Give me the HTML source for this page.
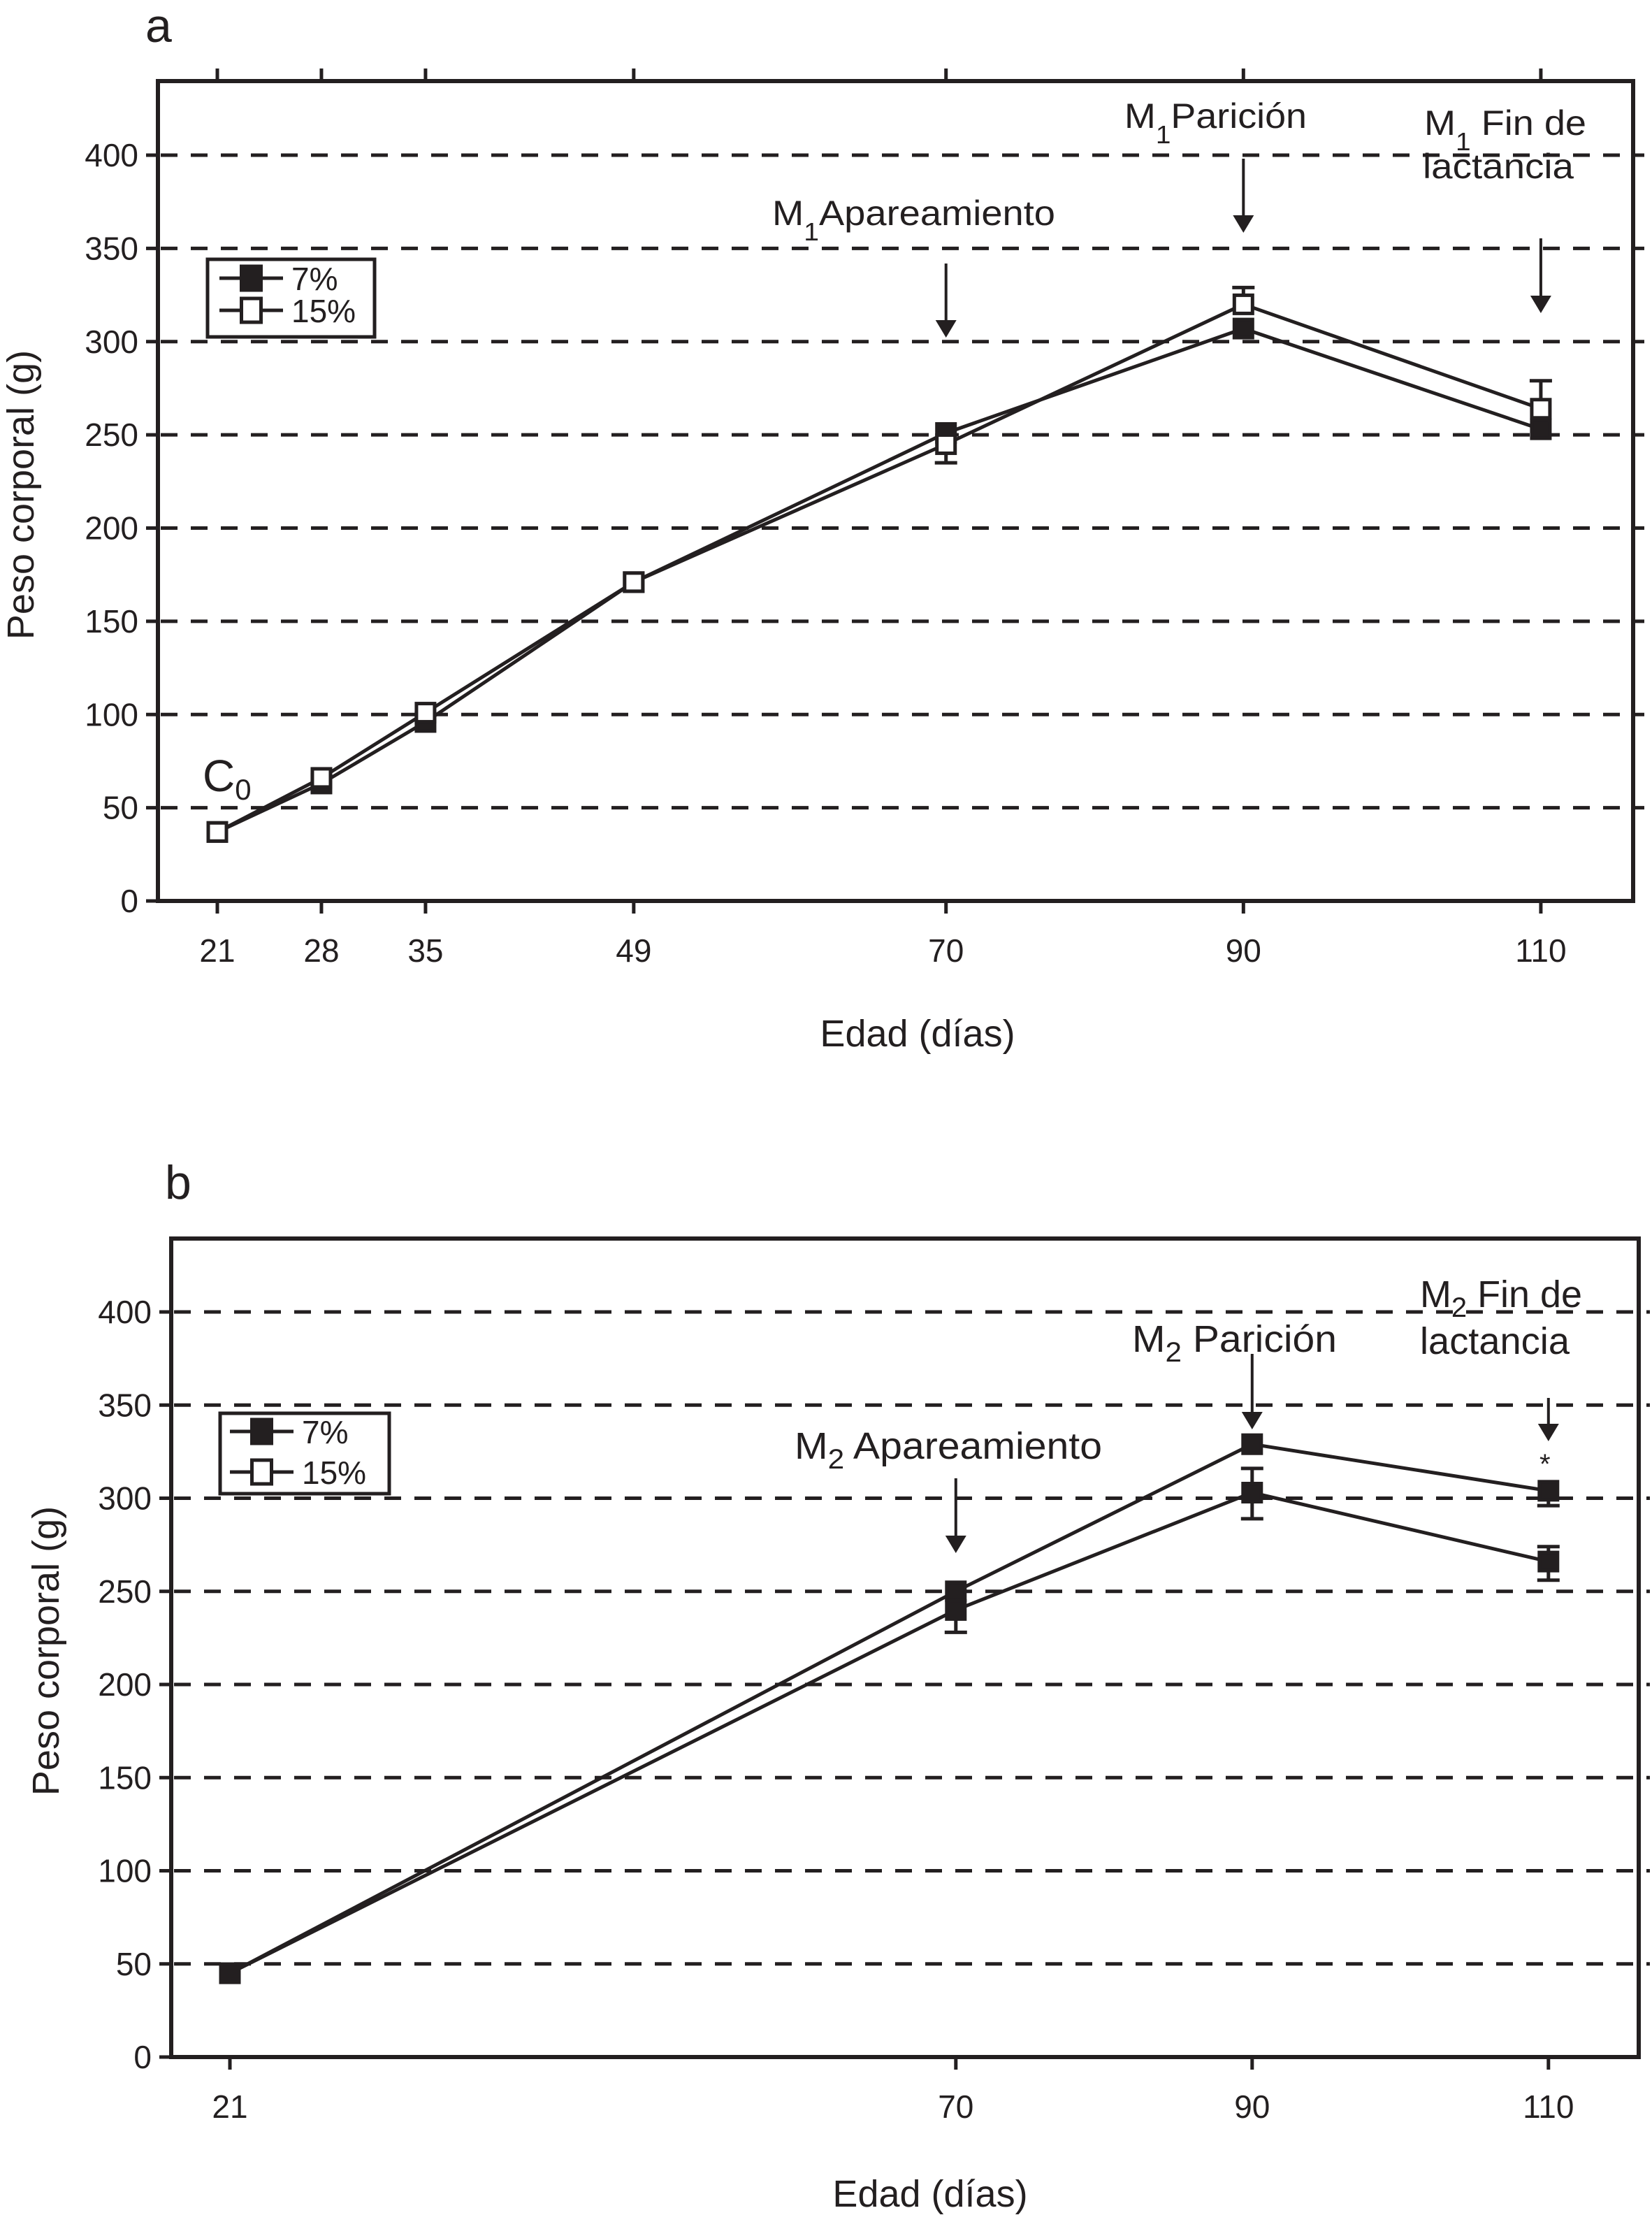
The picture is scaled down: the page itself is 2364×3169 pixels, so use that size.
<!DOCTYPE html>
<html><head><meta charset="utf-8"><title>Peso corporal</title>
<style>html,body{margin:0;padding:0;background:#fff}svg{display:block}text{font-family:"Liberation Sans",sans-serif;fill:#231f20}</style>
</head><body>
<svg id="fig" xmlns="http://www.w3.org/2000/svg" width="2364" height="3169" viewBox="0 0 2364 3169"></svg>
<script>
// ---- Panel a data ----
const aDays = [21, 28, 35, 49, 70, 90, 110];
const a7 = [37, 63, 96, 171, 251, 307, 253];
const a15 = [37, 66, 101, 171, 245, 320, 264];
const a7ErrUp = [0, 0, 0, 0, 0, 0, 0];
const a7ErrDown = [0, 0, 0, 0, 0, 0, 0];
const a15ErrUp = [0, 0, 0, 0, 0, 9, 15];
const a15ErrDown = [0, 0, 0, 0, 10, 0, 0];
// ---- Panel b data ----
const bDays = [21, 70, 90, 110];
const bUpper = [45, 250, 329, 304];
const bLower = [45, 240, 303, 266];
const bUpperErrUp = [0, 0, 0, 0];
const bUpperErrDown = [0, 0, 0, 8];
const bLowerErrUp = [0, 0, 13, 8];
const bLowerErrDown = [0, 12, 14, 10];
const yTicks = [0, 50, 100, 150, 200, 250, 300, 350, 400];

const NS = "http://www.w3.org/2000/svg";
const svg = document.getElementById('fig');
function mk(tag, attrs, parent) {
  const e = document.createElementNS(NS, tag);
  for (const k in attrs) e.setAttribute(k, attrs[k]);
  (parent || svg).appendChild(e);
  return e;
}

function drawPanel(p) {
  const g = mk('g', {});
  
  
  const X = d => p.x21 + (d - 21) * p.dx;
  const Y = v => p.y0 - v * p.dy;
  // panel letter
  const L = mk('text', {x: p.letterX, y: p.letterY, 'font-size': 68}, g);
  L.textContent = p.letter;
  
  
  // gridlines
  yTicks.forEach(v => {
    if (v > 0) {
      const gl = mk('line', {x1: p.left + 4, x2: p.right + 16, y1: Y(v), y2: Y(v), stroke: '#231f20', 'stroke-width': 5, 'stroke-dasharray': '24 19'}, g);
      
      
    }
    const tk = mk('line', {x1: p.left - 17, x2: p.left, y1: Y(v), y2: Y(v), stroke: '#231f20', 'stroke-width': 5}, g);
    
    
    const t = mk('text', {x: p.left - 28, y: Y(v) + 16, 'font-size': 46, 'text-anchor': 'end'}, g);
    t.textContent = v;
    
    
  });
  // frame
  const fr = mk('rect', {x: p.left, y: p.top, width: p.right - p.left, height: p.y0 - p.top, fill: 'none', stroke: '#231f20', 'stroke-width': 6}, g);
  
  
  // x ticks
  p.days.forEach(d => {
    const tk = mk('line', {x1: X(d), x2: X(d), y1: p.y0, y2: p.y0 + 18, stroke: '#231f20', 'stroke-width': 5}, g);
    
    
    if (p.topTicks) {
      const tt = mk('line', {x1: X(d), x2: X(d), y1: p.top - 18, y2: p.top, stroke: '#231f20', 'stroke-width': 5}, g);
      
      
    }
    const t = mk('text', {x: X(d), y: p.y0 + 87, 'font-size': 46, 'text-anchor': 'middle'}, g);
    t.textContent = d;
    
    
  });
  // axis titles
  const xt = mk('text', {x: p.xTitleX, y: p.xTitleY, 'font-size': 54, 'text-anchor': 'middle'}, g);
  xt.textContent = 'Edad (días)';
  
  
  const yt = mk('text', {x: 0, y: 0, 'font-size': 54, 'text-anchor': 'middle', transform: 'translate(' + p.yTitleX + ',' + p.yTitleY + ') rotate(-90)'}, g);
  yt.textContent = 'Peso corporal (g)';
  
  
  // series lines
  p.series.forEach(s => {
    const pts = p.days.map((d, i) => X(d) + ',' + Y(s.vals[i])).join(' ');
    const pl = mk('polyline', {points: pts, fill: 'none', stroke: '#231f20', 'stroke-width': 5}, g);
    
    
  });
  // error bars & markers
  p.series.forEach(s => {
    p.days.forEach((d, i) => {
      const v = s.vals[i];
      [[s.up[i], 1], [s.down[i], -1]].forEach(([e, dir]) => {
        if (e > 0) {
          const ye = Y(v + dir * e);
          const eb = mk('line', {x1: X(d), x2: X(d), y1: Y(v), y2: ye, stroke: '#231f20', 'stroke-width': 5}, g);
          
          
          const cap = mk('line', {x1: X(d) - 16, x2: X(d) + 16, y1: ye, y2: ye, stroke: '#231f20', 'stroke-width': 5}, g);
          
          
        }
      });
    });
  });
  p.series.forEach(s => {
    p.days.forEach((d, i) => {
      const m = mk('rect', {x: X(d) - 13, y: Y(s.vals[i]) - 13, width: 26, height: 26, fill: s.filled ? '#231f20' : '#fff', stroke: '#231f20', 'stroke-width': 5}, g);
      
      
    });
  });
  // legend
  const lg = mk('g', {}, g);
  
  
  const lb = mk('rect', {x: p.leg.x, y: p.leg.y, width: p.leg.w, height: p.leg.h, fill: '#fff', stroke: '#231f20', 'stroke-width': 5}, lg);
  
  
  [['7%', true, p.leg.r1], ['15%', false, p.leg.r2]].forEach(([lab, filled, ry]) => {
    const ll = mk('line', {x1: p.leg.lx1, x2: p.leg.lx2, y1: ry, y2: ry, stroke: '#231f20', 'stroke-width': 5}, lg);
    
    
    const cx = (p.leg.lx1 + p.leg.lx2) / 2;
    const lm = mk('rect', {x: cx - 14, y: ry - 17, width: 28, height: 34, fill: filled ? '#231f20' : '#fff', stroke: '#231f20', 'stroke-width': 5}, lg);
    
    
    const lt = mk('text', {x: p.leg.tx, y: ry + 17, 'font-size': 46}, lg);
    lt.textContent = lab;
    
    
  });
  // annotations
  p.ann.forEach(a => {
    const ag = mk('g', {}, g);
    
    
    a.lines.forEach(l => {
      const t = mk('text', {x: l.x, y: l.y, 'font-size': l.fs || 50}, ag);
      if (l.w) { t.setAttribute('textLength', l.w); t.setAttribute('lengthAdjust', 'spacingAndGlyphs'); }
      t.innerHTML = l.html;
    });
    if (a.arrow) {
      const ax = X(a.arrow.day);
      mk('line', {x1: ax, x2: ax, y1: a.arrow.y1, y2: a.arrow.y2 - 20, stroke: '#231f20', 'stroke-width': 4}, ag);
      mk('polygon', {points: (ax - 15) + ',' + (a.arrow.y2 - 25) + ' ' + (ax + 15) + ',' + (a.arrow.y2 - 25) + ' ' + ax + ',' + a.arrow.y2, fill: '#231f20'}, ag);
    }
  });
}

drawPanel({
  name: 'chart-a', letter: 'a', letterX: 208, letterY: 60,
  left: 226, right: 2337, top: 116, y0: 1289, x21: 311, dx: 21.28, dy: 2.6675,
  days: aDays, topTicks: true,
  xTitleX: 1313, xTitleY: 1497, yTitleX: 48, yTitleY: 708,
  series: [
    {name: 'series-7pct', vals: a7, up: a7ErrUp, down: a7ErrDown, filled: true},
    {name: 'series-15pct', vals: a15, up: a15ErrUp, down: a15ErrDown, filled: false}
  ],
  leg: {x: 297, y: 371, w: 239, h: 111, r1: 398, r2: 444, lx1: 314, lx2: 405, tx: 417},
  ann: [
    {name: 'annotation-m1-apareamiento', arrow: {day: 70, y1: 377, y2: 483}, lines: [
      {x: 1105, y: 322, w: 405, html: 'M<tspan dy="22" font-size="36">1</tspan><tspan dy="-22">Apareamiento</tspan>'}]},
    {name: 'annotation-m1-paricion', arrow: {day: 90, y1: 227, y2: 333}, lines: [
      {x: 1609, y: 183, w: 261, html: 'M<tspan dy="22" font-size="36">1</tspan><tspan dy="-22">Parición</tspan>'}]},
    {name: 'annotation-m1-fin-lactancia', arrow: {day: 110, y1: 341, y2: 448}, lines: [
      {x: 2038, y: 193, w: 232, html: 'M<tspan dy="22" font-size="36">1</tspan><tspan dy="-22"> Fin de</tspan>'},
      {x: 2036, y: 255, w: 216, html: 'lactancia'}]},
    {name: 'annotation-c0', lines: [
      {x: 290, y: 1132, fs: 64, html: 'C<tspan dy="12" font-size="42">0</tspan>'}]}
  ]
});

drawPanel({
  name: 'chart-b', letter: 'b', letterX: 236, letterY: 1715,
  left: 245, right: 2345, top: 1772, y0: 2943, x21: 329, dx: 21.2, dy: 2.665,
  days: bDays, topTicks: false,
  xTitleX: 1331, xTitleY: 3157, yTitleX: 84, yTitleY: 2362,
  series: [
    {name: 'series-upper', vals: bUpper, up: bUpperErrUp, down: bUpperErrDown, filled: true},
    {name: 'series-lower', vals: bLower, up: bLowerErrUp, down: bLowerErrDown, filled: true}
  ],
  leg: {x: 315, y: 2022, w: 242, h: 115, r1: 2048, r2: 2106, lx1: 329, lx2: 420, tx: 432},
  ann: [
    {name: 'annotation-m2-apareamiento', arrow: {day: 70, y1: 2115, y2: 2222}, lines: [
      {x: 1137, y: 2087, w: 440, fs: 54, html: 'M<tspan dy="14" font-size="40">2</tspan><tspan dy="-14">  Apareamiento</tspan>'}]},
    {name: 'annotation-m2-paricion', arrow: {day: 90, y1: 1937, y2: 2045}, lines: [
      {x: 1620, y: 1934, w: 293, fs: 54, html: 'M<tspan dy="14" font-size="40">2</tspan><tspan dy="-14">  Parición</tspan>'}]},
    {name: 'annotation-m2-fin-lactancia', arrow: {day: 110, y1: 2000, y2: 2062}, lines: [
      {x: 2032, y: 1870, w: 232, fs: 54, html: 'M<tspan dy="14" font-size="40">2</tspan><tspan dy="-14"> Fin de</tspan>'},
      {x: 2032, y: 1937, w: 214, fs: 54, html: 'lactancia'}]},
    {name: 'significance-asterisk', lines: [
      {x: 2203, y: 2108, fs: 40, html: '*'}]}
  ]
});
</script>
</body></html>
